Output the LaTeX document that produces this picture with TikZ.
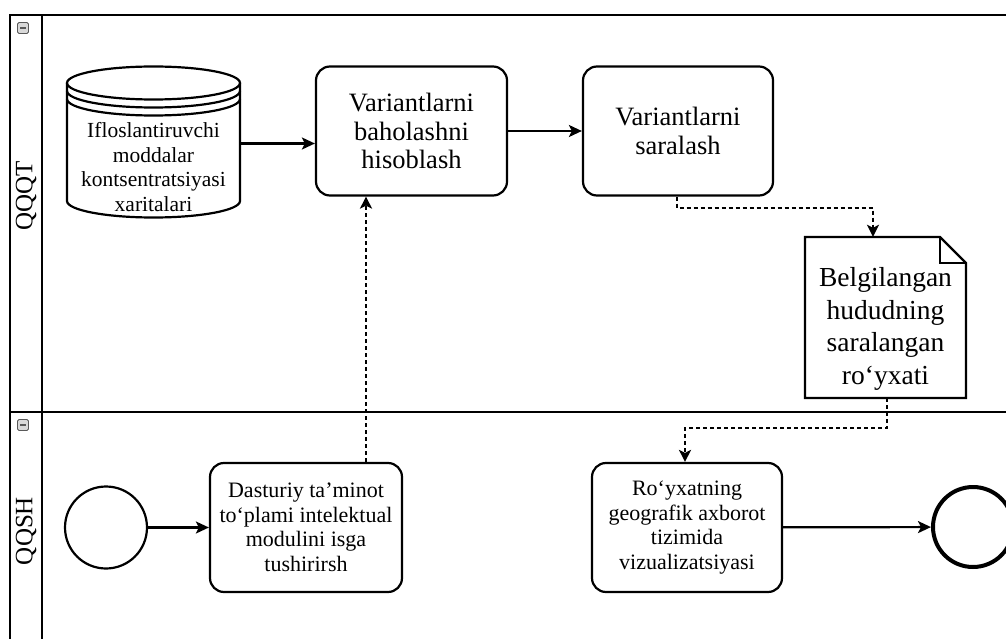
\documentclass[tikz,border=0pt]{standalone}
\usepackage{fontspec}
\setmainfont{Liberation Serif}
\usetikzlibrary{arrows.meta}

\begin{document}
\begin{tikzpicture} %Jarayon sxemasi
      [
      x=1pt, y=-1pt,
      task/.style={rectangle, rounded corners=14pt, draw, line width=2.2pt, minimum width=191pt, minimum height=129pt, inner sep=2pt, align=center},
      event/.style={circle, draw, line width=2.2pt, minimum size=82pt, inner sep=0pt},
      icon/.style={rectangle, draw=gray!70!black, line width=0.8pt, fill=gray!30, rounded corners=1.5pt, minimum size=11pt, inner sep=0pt,
        path picture={\draw[line width=1.4pt] ([xshift=2.5pt]path picture bounding box.west) -- ([xshift=-2.5pt]path picture bounding box.east);}},
      lane/.style={rotate=90, font=\fontsize{25}{28}\selectfont},
      flow/.style={-{Stealth[length=13pt,width=12pt,inset=3pt]}, line width=2.2pt},
      dataflow/.style={-{Stealth[length=12pt,width=12pt,inset=3pt]}, line width=2.3pt, dash pattern=on 4pt off 3pt},
      big/.style={font=\fontsize{26.5}{28.5}\selectfont},
      mid/.style={font=\fontsize{22}{24.5}\selectfont},
      plain/.style={align=center, inner sep=0pt}
      ]
      \useasboundingbox (0,0) rectangle (1006,639);
      % hovuz va yo'laklar
      \begin{scope}[line width=2.5pt]
        \draw (1006,15) -- (10,15) -- (10,639);
        \draw (42,15) -- (42,639);
        \draw (10,412) -- (1006,412);
      \end{scope}
      \node[icon] (i1) at (23,28) {};
      \node[icon] (i2) at (23,425) {};
      \node[lane] (l1) at (26,196) {QQQT};
      \node[lane] (l2) at (26,531) {QQSH};

      % ma'lumotlar ombori
      \begin{scope}[line width=2.2pt]
        \draw (153.5,83) ellipse [x radius=86.5, y radius=16.5];
        \draw (67,83) -- (67,201) arc[start angle=180, end angle=0, x radius=86.5, y radius=16.5] -- (240,83);
        \draw (67,91) arc[start angle=180, end angle=0, x radius=86.5, y radius=16.5];
        \draw (67,99) arc[start angle=180, end angle=0, x radius=86.5, y radius=16.5];
      \end{scope}
      \node[plain, minimum width=173pt, minimum height=152pt] (db) at (153.5,143.5) {};
      \node[plain, font=\fontsize{21.5}{24.5}\selectfont] (dbtext) at (153.5,167) {Ifloslantiruvchi\\moddalar\\kontsentratsiyasi\\xaritalari};

      % hujjat
      \draw[line width=2.2pt] (805,237) -- (940,237) -- (966,263) -- (966,398) -- (805,398) -- cycle;
      \draw[line width=2.2pt] (940,237) -- (940,263) -- (966,263);
      \node[plain, minimum width=161pt, minimum height=161pt] (doc) at (885.5,317.5) {};
      \node[plain, font=\fontsize{27.5}{32.5}\selectfont] (doctext) at (885.5,329) {Belgilangan\\hududning\\saralangan\\ro‘yxati};

      % vazifalar
      \node[task, big] (b1) at (411.5,131) {Variantlarni\\baholashni\\hisoblash};
      \node[task, big, minimum width=190pt] (b2) at (678,131) {Variantlarni\\saralash};
      \node[task, mid, minimum width=192pt] (b3) at (306,527.5) {Dasturiy ta’minot\\to‘plami intelektual\\modulini isga\\tushirirsh};
      \node[task, mid, minimum width=190pt] (b4) at (687,527.5) {Ro‘yxatning\\geografik axborot\\tizimida\\vizualizatsiyasi};

      % hodisalar
      \node[event] (start) at (106,527.5) {};
      \node[event, line width=4pt, minimum size=80pt] (end) at (973,527) {};

      \coordinate (c1) at (366,0);
      \coordinate (c2) at (677,208);
      \coordinate (c3) at (873,208);
      \coordinate (c4) at (887,428);
      \coordinate (c5) at (685,428);

      \draw[flow] (db.east) -- (db.east -| b1.west);
      \draw[flow] (b1) -- (b2);
      \draw[flow] (start) -- (b3);
      \draw[flow] (b4) -- (end);
      \begin{scope}
        \draw[dataflow] (b3.north -| c1) -- (b1.south -| c1);
        \draw[dataflow] (b2.south -| c2) -- (c2) -- (c3) -- (doc.north -| c3);
        \draw[dataflow] (doc.south -| c4) -- (c4) -- (c5) -- (b4.north -| c5);
      \end{scope}
\end{tikzpicture}
\end{document}
